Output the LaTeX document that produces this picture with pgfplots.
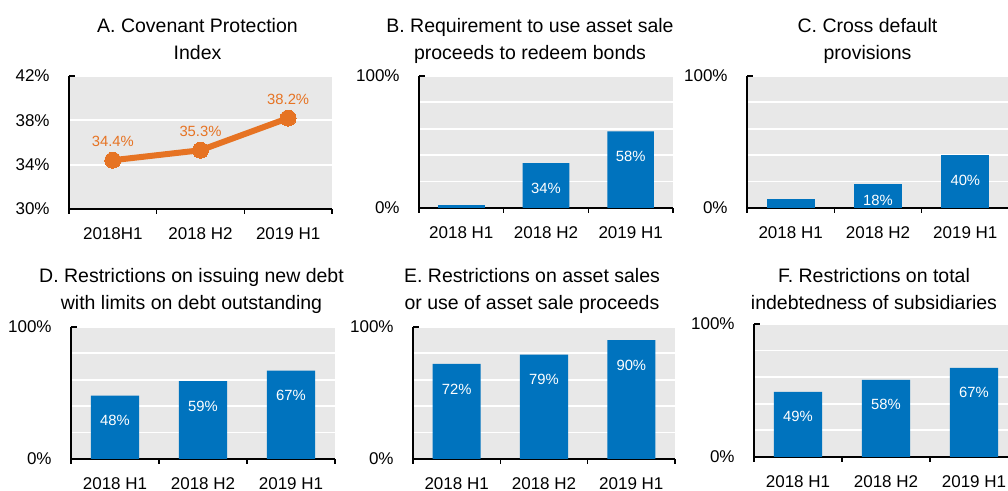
\documentclass[border=0pt]{standalone}
\usepackage{fontspec}
\setmainfont{Liberation Sans}
\usepackage{pgfplots}
\pgfplotsset{compat=1.18}
\definecolor{barblue}{RGB}{0,115,190}
\definecolor{lineorange}{RGB}{230,115,35}
\definecolor{bggray}{RGB}{232,232,232}
\newcommand{\titlefont}{\fontsize{9.75}{11.7}\selectfont}
\newcommand{\tickfont}{\fontsize{8.5}{10}\selectfont}
\newcommand{\labfont}{\fontsize{7.4}{8.5}\selectfont}
\pgfplotsset{
  panel/.style={
    scale only axis,
    anchor=south west,
    axis lines*=left,
    axis line style={black, line width=0.75pt},
    axis background/.style={fill=bggray},
    xmin=-0.5, xmax=2.5,
    xtick={0,1,2},
    xticklabels={2018 H1,2018 H2,2019 H1},
    minor xtick={-0.5,0.5,1.5,2.5},
    tick align=outside,
    major tick length=0pt,
    minor tick length=2.5pt,
    minor tick style={black, line width=0.75pt},
    ymajorgrids,
    major grid style={white, line width=0.9pt},
    tick label style={font=\tickfont, text=black},
    yticklabel style={inner sep=0pt, xshift=-9.5pt},
    xticklabel style={inner sep=0pt, yshift=-9pt},
    extra y tick labels={},
    extra y tick style={tick align=inside, major tick length=3pt, ymajorgrids=false,
      tick style={black, line width=0.75pt}},
  },
  barpanel/.style={
    panel,
    ymin=0, ymax=100,
    ytick={0,20,40,60,80,100},
    yticklabels={0\%,,,,,100\%},
    extra y ticks={100},
  },
  bars/.style={
    ybar, bar shift=0pt, bar width=0.55, fill=barblue, draw=none,
  },
  lbars/.style={
    bars,
    nodes near coords={\pgfmathprintnumber[assume math mode=true]{\pgfplotspointmeta}\%},
    every node near coord/.append style={font=\labfont, text=white, anchor=center, yshift=#1},
  },
  lbars/.default=-12.5pt,
}
\begin{document}
\begin{tikzpicture}
\useasboundingbox (0,0) rectangle (504pt,245.5pt);
\clip (0,0) rectangle (504pt,245.5pt);

% Titles
\node[font=\titlefont, anchor=base] at (98.75pt,229pt) {A. Covenant Protection};
\node[font=\titlefont, anchor=base] at (98.75pt,215.5pt) {Index};
\node[font=\titlefont, anchor=base] at (265pt,229pt) {B. Requirement to use asset sale};
\node[font=\titlefont, anchor=base] at (265pt,215.5pt) {proceeds to redeem bonds};
\node[font=\titlefont, anchor=base] at (433.75pt,229pt) {C. Cross default};
\node[font=\titlefont, anchor=base] at (433.75pt,215.5pt) {provisions};
\node[font=\titlefont, anchor=base] at (95.75pt,104pt) {D. Restrictions on issuing new debt};
\node[font=\titlefont, anchor=base] at (95.75pt,90.5pt) {with limits on debt outstanding};
\node[font=\titlefont, anchor=base] at (266pt,104pt) {E. Restrictions on asset sales};
\node[font=\titlefont, anchor=base] at (266pt,90.5pt) {or use of asset sale proceeds};
\node[font=\titlefont, anchor=base] at (437pt,104pt) {F. Restrictions on total};
\node[font=\titlefont, anchor=base] at (437pt,90.5pt) {indebtedness of subsidiaries};

% A
\begin{axis}[panel, at={(34.5pt,141pt)}, width=131.5pt, height=66.5pt,
  ymin=30, ymax=42, ytick={30,34,38,42}, yticklabels={30\%,34\%,38\%,42\%},
  extra y ticks={42},
  xticklabels={2018H1,2018 H2,2019 H1}]
\addplot[lineorange, line width=3pt, mark=*, mark size=4pt,
  mark options={fill=lineorange, draw=lineorange, line width=0pt},
  nodes near coords={\pgfmathprintnumber[fixed,precision=1,fixed zerofill,assume math mode=true]{\pgfplotspointmeta}\%},
  every node near coord/.append style={font=\labfont, text=lineorange, anchor=center, yshift=9.5pt}]
  coordinates {(0,34.4) (1,35.3) (2,38.2)};
\end{axis}

% B
\begin{axis}[barpanel, at={(209.5pt,141.5pt)}, width=127pt, height=66pt]
\addplot[bars] coordinates {(0,2)};
\addplot[lbars] coordinates {(1,34) (2,58)};
\end{axis}

% C
\begin{axis}[barpanel, at={(373.5pt,141.5pt)}, width=131pt, height=66pt]
\addplot[bars] coordinates {(0,7)};
\addplot[lbars=-8pt] coordinates {(1,18)};
\addplot[lbars] coordinates {(2,40)};
\end{axis}

% D
\begin{axis}[barpanel, at={(35.5pt,16pt)}, width=132pt, height=66pt]
\addplot[lbars] coordinates {(0,48) (1,59) (2,67)};
\end{axis}

% E
\begin{axis}[barpanel, at={(206.5pt,16pt)}, width=131pt, height=66pt]
\addplot[lbars] coordinates {(0,72) (1,79) (2,90)};
\end{axis}

% F
\begin{axis}[barpanel, at={(377pt,17pt)}, width=132pt, height=66.5pt]
\addplot[lbars] coordinates {(0,49) (1,58) (2,67)};
\end{axis}
\end{tikzpicture}
\end{document}
